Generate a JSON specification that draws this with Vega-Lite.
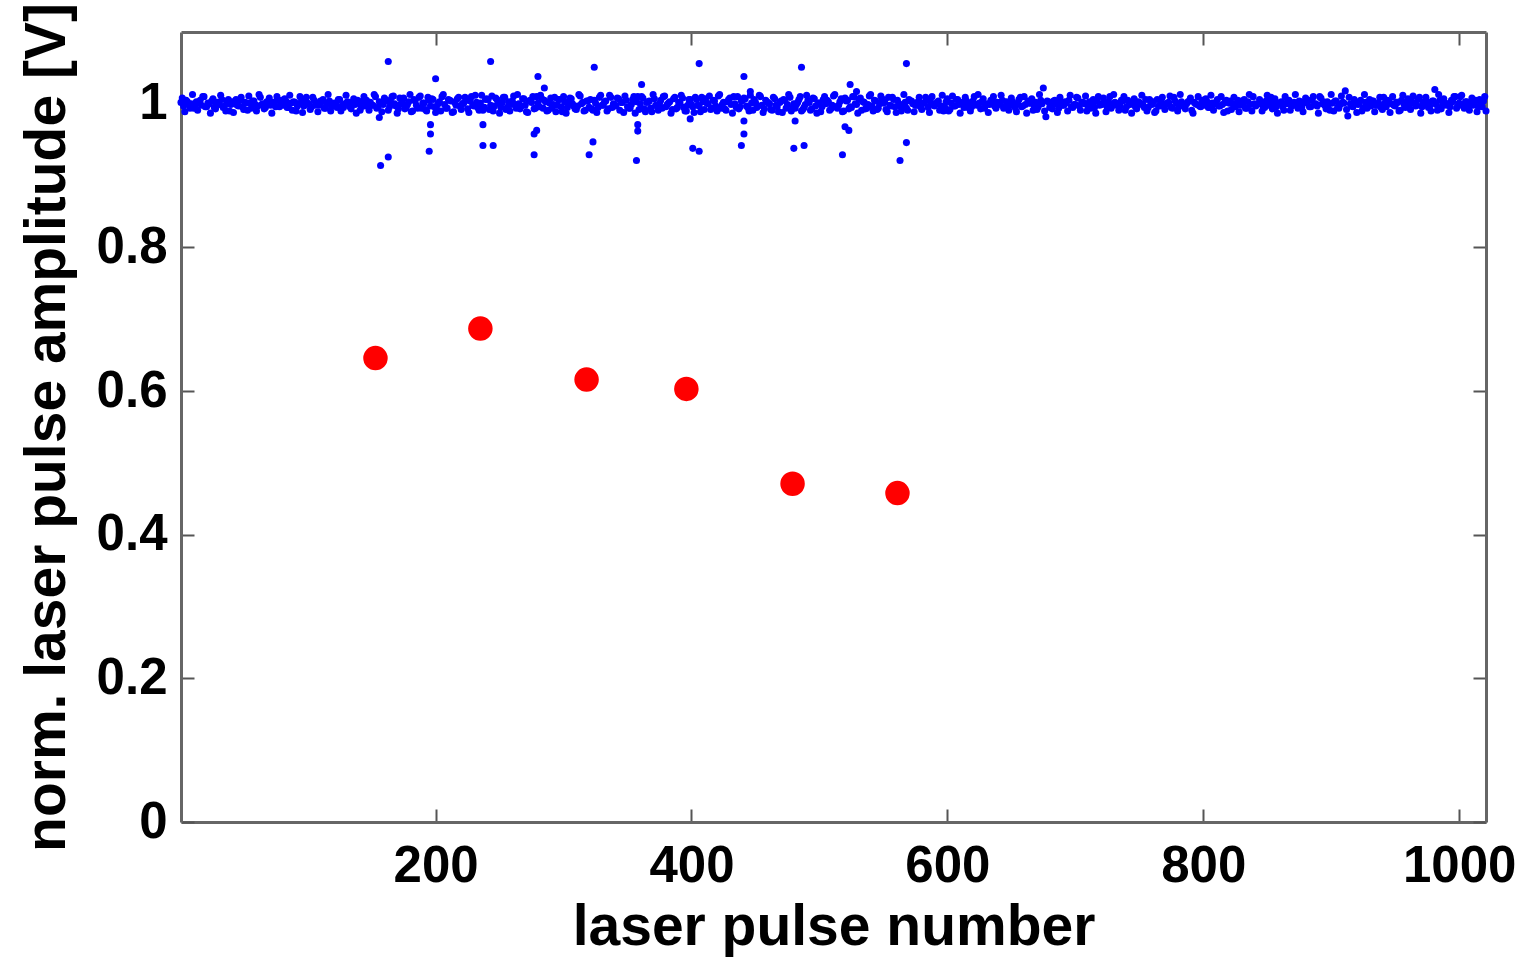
{
  "$schema": "https://vega.github.io/schema/vega-lite/v6.json",
  "width": 1305,
  "height": 790,
  "autosize": "none",
  "padding": {"left": 181, "top": 32, "right": 36, "bottom": 136},
  "background": "white",
  "config": {
    "view": {"stroke": null},
    "axis": {
      "grid": false,
      "domainColor": "#666666",
      "domainWidth": 3,
      "tickColor": "#555555",
      "tickWidth": 2,
      "tickSize": -13,
      "labelFont": "Liberation Sans",
      "labelFontWeight": "bold",
      "labelFontSize": 51,
      "labelColor": "#000000",
      "labelFlush": false,
      "labelOverlap": false,
      "titleFont": "Liberation Sans",
      "titleFontWeight": "bold",
      "titleFontSize": 57,
      "titleColor": "#000000"
    }
  },
  "datasets": {
    "blue": [
      {"n":1,"v":1.002},{"n":3,"v":0.997},{"n":5,"v":1.005},{"n":7,"v":0.999},{"n":9,"v":1.000},{"n":11,"v":0.994},{"n":13,"v":1.003},{"n":15,"v":1.001},{"n":17,"v":0.998},{"n":19,"v":1.010},{"n":21,"v":0.996},{"n":23,"v":1.000},{"n":25,"v":1.004},{"n":27,"v":0.995},{"n":29,"v":1.002},{"n":31,"v":0.999},{"n":33,"v":1.006},{"n":35,"v":0.997},{"n":37,"v":1.001},{"n":39,"v":0.990},
      {"n":41,"v":1.003},{"n":43,"v":1.000},{"n":45,"v":0.998},{"n":47,"v":1.005},{"n":49,"v":0.996},{"n":51,"v":1.002},{"n":53,"v":0.991},{"n":55,"v":1.001},{"n":57,"v":1.004},{"n":59,"v":0.999},{"n":61,"v":0.997},{"n":63,"v":1.009},{"n":65,"v":1.000},{"n":67,"v":0.995},{"n":69,"v":1.003},{"n":71,"v":0.998},{"n":73,"v":1.002},{"n":75,"v":0.996},{"n":77,"v":1.005},{"n":79,"v":0.999},
      {"n":81,"v":0.998},{"n":83,"v":1.004},{"n":85,"v":0.995},{"n":87,"v":1.001},{"n":89,"v":1.003},{"n":91,"v":0.990},{"n":93,"v":1.000},{"n":95,"v":1.002},{"n":97,"v":0.997},{"n":99,"v":1.009},{"n":101,"v":0.999},{"n":103,"v":0.996},{"n":105,"v":1.005},{"n":107,"v":1.001},{"n":109,"v":0.998},{"n":111,"v":1.003},{"n":113,"v":0.994},{"n":115,"v":1.000},{"n":117,"v":1.004},{"n":119,"v":0.997},
      {"n":121,"v":1.001},{"n":123,"v":0.995},{"n":125,"v":1.006},{"n":127,"v":0.998},{"n":129,"v":1.000},{"n":131,"v":1.003},{"n":133,"v":0.996},{"n":135,"v":1.002},{"n":137,"v":0.999},{"n":139,"v":1.005},{"n":141,"v":0.991},{"n":143,"v":1.004},{"n":145,"v":0.997},{"n":147,"v":1.000},{"n":149,"v":1.002},{"n":151,"v":0.998},{"n":153,"v":1.010},{"n":155,"v":0.995},{"n":157,"v":1.001},{"n":159,"v":0.999},
      {"n":161,"v":1.004},{"n":163,"v":0.991},{"n":165,"v":1.002},{"n":167,"v":1.011},{"n":169,"v":0.997},{"n":171,"v":0.993},{"n":173,"v":1.000},{"n":175,"v":1.008},{"n":177,"v":0.995},{"n":179,"v":1.003},{"n":181,"v":0.989},{"n":183,"v":1.006},{"n":185,"v":0.998},{"n":187,"v":1.009},{"n":189,"v":0.994},{"n":191,"v":1.001},{"n":193,"v":0.990},{"n":195,"v":1.005},{"n":197,"v":1.007},{"n":199,"v":0.996},
      {"n":201,"v":0.992},{"n":203,"v":1.003},{"n":205,"v":1.010},{"n":207,"v":0.999},{"n":209,"v":0.994},{"n":211,"v":1.005},{"n":213,"v":0.988},{"n":215,"v":1.002},{"n":217,"v":1.007},{"n":219,"v":0.997},{"n":221,"v":1.000},{"n":223,"v":1.009},{"n":225,"v":0.993},{"n":227,"v":1.004},{"n":229,"v":0.998},{"n":231,"v":1.012},{"n":233,"v":0.995},{"n":235,"v":1.001},{"n":237,"v":0.991},{"n":239,"v":1.006},
      {"n":241,"v":1.006},{"n":243,"v":0.998},{"n":245,"v":0.990},{"n":247,"v":1.008},{"n":249,"v":1.001},{"n":251,"v":0.995},{"n":253,"v":1.009},{"n":255,"v":0.992},{"n":257,"v":1.003},{"n":259,"v":0.999},{"n":261,"v":1.011},{"n":263,"v":0.994},{"n":265,"v":1.000},{"n":267,"v":0.997},{"n":269,"v":1.007},{"n":271,"v":0.989},{"n":273,"v":1.004},{"n":275,"v":1.002},{"n":277,"v":0.993},{"n":279,"v":1.010},
      {"n":281,"v":0.996},{"n":283,"v":1.007},{"n":285,"v":1.005},{"n":287,"v":0.990},{"n":289,"v":1.001},{"n":291,"v":0.994},{"n":293,"v":1.009},{"n":295,"v":0.998},{"n":297,"v":1.006},{"n":299,"v":0.989},{"n":301,"v":1.003},{"n":303,"v":0.995},{"n":305,"v":1.008},{"n":307,"v":1.000},{"n":309,"v":0.993},{"n":311,"v":0.997},{"n":313,"v":1.011},{"n":315,"v":1.002},{"n":317,"v":0.991},{"n":319,"v":1.004},
      {"n":321,"v":1.006},{"n":323,"v":0.991},{"n":325,"v":1.001},{"n":327,"v":0.995},{"n":329,"v":1.012},{"n":331,"v":0.998},{"n":333,"v":1.004},{"n":335,"v":0.993},{"n":337,"v":1.009},{"n":339,"v":1.000},{"n":341,"v":0.997},{"n":343,"v":1.007},{"n":345,"v":1.002},{"n":347,"v":0.988},{"n":349,"v":1.005},{"n":351,"v":0.994},{"n":353,"v":0.999},{"n":355,"v":1.010},{"n":357,"v":1.003},{"n":359,"v":0.992},
      {"n":361,"v":1.010},{"n":363,"v":0.993},{"n":365,"v":1.002},{"n":367,"v":1.004},{"n":369,"v":0.989},{"n":371,"v":1.007},{"n":373,"v":0.997},{"n":375,"v":1.000},{"n":377,"v":0.994},{"n":379,"v":1.011},{"n":381,"v":0.999},{"n":383,"v":1.003},{"n":385,"v":0.992},{"n":387,"v":1.009},{"n":389,"v":0.995},{"n":391,"v":1.001},{"n":393,"v":1.008},{"n":395,"v":0.990},{"n":397,"v":0.998},{"n":399,"v":1.006},
      {"n":401,"v":0.996},{"n":403,"v":1.009},{"n":405,"v":0.998},{"n":407,"v":0.989},{"n":409,"v":1.003},{"n":411,"v":1.007},{"n":413,"v":1.000},{"n":415,"v":0.992},{"n":417,"v":1.005},{"n":419,"v":0.997},{"n":421,"v":1.011},{"n":423,"v":0.994},{"n":425,"v":1.002},{"n":427,"v":0.991},{"n":429,"v":1.006},{"n":431,"v":0.999},{"n":433,"v":1.010},{"n":435,"v":0.995},{"n":437,"v":0.993},{"n":439,"v":1.004},
      {"n":441,"v":1.008},{"n":443,"v":0.997},{"n":445,"v":0.990},{"n":447,"v":1.001},{"n":449,"v":1.006},{"n":451,"v":0.995},{"n":453,"v":1.012},{"n":455,"v":0.998},{"n":457,"v":0.993},{"n":459,"v":1.003},{"n":461,"v":1.000},{"n":463,"v":0.991},{"n":465,"v":1.007},{"n":467,"v":0.996},{"n":469,"v":1.002},{"n":471,"v":0.988},{"n":473,"v":1.005},{"n":475,"v":0.999},{"n":477,"v":1.009},{"n":479,"v":0.994},
      {"n":481,"v":0.994},{"n":483,"v":1.002},{"n":485,"v":1.010},{"n":487,"v":0.992},{"n":489,"v":0.999},{"n":491,"v":1.005},{"n":493,"v":0.991},{"n":495,"v":1.008},{"n":497,"v":0.997},{"n":499,"v":1.001},{"n":501,"v":0.989},{"n":503,"v":1.006},{"n":505,"v":1.000},{"n":507,"v":1.003},{"n":509,"v":0.993},{"n":511,"v":1.011},{"n":513,"v":0.996},{"n":515,"v":0.998},{"n":517,"v":1.007},{"n":519,"v":0.990},
      {"n":521,"v":1.004},{"n":523,"v":0.993},{"n":525,"v":0.995},{"n":527,"v":1.010},{"n":529,"v":0.999},{"n":531,"v":1.006},{"n":533,"v":0.991},{"n":535,"v":1.002},{"n":537,"v":0.994},{"n":539,"v":1.011},{"n":541,"v":0.997},{"n":543,"v":1.005},{"n":545,"v":0.992},{"n":547,"v":1.000},{"n":549,"v":1.007},{"n":551,"v":1.003},{"n":553,"v":0.989},{"n":555,"v":0.998},{"n":557,"v":1.009},{"n":559,"v":0.996},
      {"n":561,"v":1.005},{"n":563,"v":0.997},{"n":565,"v":0.999},{"n":567,"v":1.002},{"n":569,"v":0.991},{"n":571,"v":1.004},{"n":573,"v":1.000},{"n":575,"v":0.998},{"n":577,"v":1.003},{"n":579,"v":0.996},{"n":581,"v":1.001},{"n":583,"v":1.009},{"n":585,"v":0.995},{"n":587,"v":1.002},{"n":589,"v":0.999},{"n":591,"v":1.000},{"n":593,"v":1.004},{"n":595,"v":0.997},{"n":597,"v":0.990},{"n":599,"v":1.003},
      {"n":601,"v":0.990},{"n":603,"v":1.001},{"n":605,"v":0.997},{"n":607,"v":1.006},{"n":609,"v":0.999},{"n":611,"v":1.002},{"n":613,"v":0.995},{"n":615,"v":1.004},{"n":617,"v":1.000},{"n":619,"v":0.996},{"n":621,"v":1.010},{"n":623,"v":0.998},{"n":625,"v":1.001},{"n":627,"v":1.003},{"n":629,"v":0.994},{"n":631,"v":1.000},{"n":633,"v":0.999},{"n":635,"v":1.005},{"n":637,"v":0.997},{"n":639,"v":1.002},
      {"n":641,"v":0.999},{"n":643,"v":1.005},{"n":645,"v":0.996},{"n":647,"v":1.002},{"n":649,"v":0.998},{"n":651,"v":1.003},{"n":653,"v":0.995},{"n":655,"v":1.000},{"n":657,"v":1.009},{"n":659,"v":0.997},{"n":661,"v":0.999},{"n":663,"v":1.004},{"n":665,"v":1.001},{"n":667,"v":0.991},{"n":669,"v":1.002},{"n":671,"v":0.996},{"n":673,"v":1.005},{"n":675,"v":1.022},{"n":677,"v":0.982},{"n":679,"v":1.003},
      {"n":681,"v":0.997},{"n":683,"v":1.004},{"n":685,"v":1.000},{"n":687,"v":0.994},{"n":689,"v":1.003},{"n":691,"v":0.998},{"n":693,"v":1.001},{"n":695,"v":1.005},{"n":697,"v":0.996},{"n":699,"v":0.999},{"n":701,"v":1.009},{"n":703,"v":0.997},{"n":705,"v":1.002},{"n":707,"v":1.000},{"n":709,"v":0.990},{"n":711,"v":1.003},{"n":713,"v":1.001},{"n":715,"v":0.995},{"n":717,"v":1.004},{"n":719,"v":0.998},
      {"n":721,"v":0.999},{"n":723,"v":1.001},{"n":725,"v":0.995},{"n":727,"v":1.010},{"n":729,"v":0.998},{"n":731,"v":1.002},{"n":733,"v":1.000},{"n":735,"v":0.997},{"n":737,"v":1.004},{"n":739,"v":0.991},{"n":741,"v":1.005},{"n":743,"v":0.999},{"n":745,"v":1.002},{"n":747,"v":0.996},{"n":749,"v":1.003},{"n":751,"v":1.000},{"n":753,"v":0.998},{"n":755,"v":1.006},{"n":757,"v":0.995},{"n":759,"v":1.001},
      {"n":761,"v":1.003},{"n":763,"v":0.990},{"n":765,"v":0.997},{"n":767,"v":1.004},{"n":769,"v":1.000},{"n":771,"v":0.999},{"n":773,"v":1.002},{"n":775,"v":0.995},{"n":777,"v":1.009},{"n":779,"v":1.001},{"n":781,"v":0.996},{"n":783,"v":1.003},{"n":785,"v":0.998},{"n":787,"v":1.000},{"n":789,"v":1.004},{"n":791,"v":0.991},{"n":793,"v":1.002},{"n":795,"v":0.999},{"n":797,"v":0.997},{"n":799,"v":1.005},
      {"n":801,"v":0.998},{"n":803,"v":1.003},{"n":805,"v":0.995},{"n":807,"v":1.001},{"n":809,"v":1.000},{"n":811,"v":1.006},{"n":813,"v":0.997},{"n":815,"v":0.999},{"n":817,"v":1.002},{"n":819,"v":0.990},{"n":821,"v":1.004},{"n":823,"v":1.000},{"n":825,"v":0.996},{"n":827,"v":1.005},{"n":829,"v":0.998},{"n":831,"v":1.001},{"n":833,"v":0.994},{"n":835,"v":1.003},{"n":837,"v":0.999},{"n":839,"v":1.010},
      {"n":841,"v":0.997},{"n":843,"v":1.000},{"n":845,"v":1.002},{"n":847,"v":0.995},{"n":849,"v":1.004},{"n":851,"v":0.998},{"n":853,"v":1.009},{"n":855,"v":0.999},{"n":857,"v":0.996},{"n":859,"v":1.001},{"n":861,"v":1.003},{"n":863,"v":0.991},{"n":865,"v":1.000},{"n":867,"v":1.005},{"n":869,"v":0.997},{"n":871,"v":1.002},{"n":873,"v":0.998},{"n":875,"v":1.004},{"n":877,"v":0.995},{"n":879,"v":1.001},
      {"n":881,"v":1.002},{"n":883,"v":0.996},{"n":885,"v":1.005},{"n":887,"v":0.999},{"n":889,"v":0.997},{"n":891,"v":1.010},{"n":893,"v":1.000},{"n":895,"v":0.998},{"n":897,"v":1.003},{"n":899,"v":0.991},{"n":901,"v":1.001},{"n":903,"v":1.004},{"n":905,"v":0.995},{"n":907,"v":0.999},{"n":909,"v":1.002},{"n":911,"v":1.018},{"n":913,"v":0.983},{"n":915,"v":1.000},{"n":917,"v":0.996},{"n":919,"v":1.003},
      {"n":921,"v":0.999},{"n":923,"v":1.005},{"n":925,"v":0.994},{"n":927,"v":1.002},{"n":929,"v":1.000},{"n":931,"v":0.997},{"n":933,"v":1.004},{"n":935,"v":0.998},{"n":937,"v":1.001},{"n":939,"v":0.995},{"n":941,"v":1.009},{"n":943,"v":0.996},{"n":945,"v":1.003},{"n":947,"v":1.000},{"n":949,"v":0.998},{"n":951,"v":1.002},{"n":953,"v":0.990},{"n":955,"v":1.005},{"n":957,"v":0.999},{"n":959,"v":1.001},
      {"n":961,"v":0.995},{"n":963,"v":1.003},{"n":965,"v":1.001},{"n":967,"v":0.998},{"n":969,"v":1.009},{"n":971,"v":0.996},{"n":973,"v":1.000},{"n":975,"v":1.002},{"n":977,"v":0.997},{"n":979,"v":1.004},{"n":981,"v":1.020},{"n":983,"v":0.991},{"n":985,"v":1.005},{"n":987,"v":0.998},{"n":989,"v":1.001},{"n":991,"v":1.000},{"n":993,"v":0.996},{"n":995,"v":1.003},{"n":997,"v":1.010},{"n":999,"v":0.997},
      {"n":1001,"v":1.010},{"n":1003,"v":0.999},{"n":1005,"v":1.003},{"n":1007,"v":0.994},{"n":1009,"v":1.001},{"n":1011,"v":0.998},{"n":1013,"v":1.005},{"n":1015,"v":0.996},{"n":1017,"v":1.000},{"n":1019,"v":1.004},{"n":1021,"v":0.990},
      {"n":2,"v":1.008},{"n":4,"v":0.989},{"n":6,"v":1.003},{"n":8,"v":0.994},{"n":10,"v":1.013},{"n":12,"v":0.998},{"n":14,"v":0.991},{"n":16,"v":1.005},{"n":18,"v":1.010},{"n":20,"v":0.996},{"n":22,"v":1.001},{"n":24,"v":0.987},{"n":26,"v":1.007},{"n":28,"v":0.993},{"n":30,"v":1.002},{"n":32,"v":1.012},{"n":34,"v":0.995},{"n":36,"v":0.990},{"n":38,"v":1.006},{"n":40,"v":0.999},
      {"n":42,"v":0.988},{"n":44,"v":1.006},{"n":46,"v":0.997},{"n":48,"v":1.009},{"n":50,"v":0.992},{"n":52,"v":1.001},{"n":54,"v":1.011},{"n":56,"v":0.994},{"n":58,"v":1.004},{"n":60,"v":0.990},{"n":62,"v":1.013},{"n":64,"v":0.999},{"n":66,"v":0.993},{"n":68,"v":1.003},{"n":70,"v":1.008},{"n":72,"v":0.987},{"n":74,"v":1.000},{"n":76,"v":1.010},{"n":78,"v":0.996},{"n":80,"v":1.005},
      {"n":82,"v":1.007},{"n":84,"v":0.995},{"n":86,"v":1.012},{"n":88,"v":0.991},{"n":90,"v":1.002},{"n":92,"v":0.997},{"n":94,"v":1.010},{"n":96,"v":0.988},{"n":98,"v":1.005},{"n":100,"v":1.001},{"n":102,"v":0.992},{"n":104,"v":1.009},{"n":106,"v":0.998},{"n":108,"v":0.989},{"n":110,"v":1.004},{"n":112,"v":1.006},{"n":114,"v":0.994},{"n":116,"v":1.013},{"n":118,"v":0.990},{"n":120,"v":1.000},
      {"n":122,"v":0.999},{"n":124,"v":1.006},{"n":126,"v":0.990},{"n":128,"v":0.995},{"n":130,"v":1.012},{"n":132,"v":1.002},{"n":134,"v":0.993},{"n":136,"v":1.007},{"n":138,"v":0.987},{"n":140,"v":1.001},{"n":142,"v":0.996},{"n":144,"v":1.010},{"n":146,"v":1.005},{"n":148,"v":0.991},{"n":150,"v":0.998},{"n":152,"v":1.013},{"n":154,"v":0.994},{"n":156,"v":1.003},{"n":158,"v":0.989},{"n":160,"v":1.008},
      {"n":162,"v":1.005},{"n":164,"v":0.996},{"n":166,"v":1.010},{"n":168,"v":1.000},{"n":170,"v":0.987},{"n":172,"v":1.008},{"n":174,"v":1.003},{"n":176,"v":0.993},{"n":178,"v":0.999},{"n":180,"v":1.013},{"n":182,"v":0.990},{"n":184,"v":1.004},{"n":186,"v":0.994},{"n":188,"v":1.011},{"n":190,"v":1.001},{"n":192,"v":0.992},{"n":194,"v":1.009},{"n":196,"v":0.997},{"n":198,"v":1.006},{"n":200,"v":0.988},
      {"n":202,"v":1.000},{"n":204,"v":0.990},{"n":206,"v":1.013},{"n":208,"v":0.994},{"n":210,"v":1.006},{"n":212,"v":1.004},{"n":214,"v":0.989},{"n":216,"v":0.998},{"n":218,"v":1.009},{"n":220,"v":0.992},{"n":222,"v":1.001},{"n":224,"v":1.005},{"n":226,"v":0.988},{"n":228,"v":1.010},{"n":230,"v":0.997},{"n":232,"v":1.002},{"n":234,"v":0.991},{"n":236,"v":1.012},{"n":238,"v":0.995},{"n":240,"v":1.007},
      {"n":242,"v":0.992},{"n":244,"v":1.011},{"n":246,"v":0.997},{"n":248,"v":1.006},{"n":250,"v":0.987},{"n":252,"v":1.002},{"n":254,"v":1.009},{"n":256,"v":0.995},{"n":258,"v":0.990},{"n":260,"v":1.004},{"n":262,"v":0.999},{"n":264,"v":1.013},{"n":266,"v":0.993},{"n":268,"v":1.007},{"n":270,"v":0.998},{"n":272,"v":0.988},{"n":274,"v":1.005},{"n":276,"v":1.010},{"n":278,"v":0.994},{"n":280,"v":1.001},
      {"n":282,"v":1.012},{"n":284,"v":0.994},{"n":286,"v":1.003},{"n":288,"v":0.991},{"n":290,"v":1.008},{"n":292,"v":0.999},{"n":294,"v":0.989},{"n":296,"v":1.006},{"n":298,"v":0.996},{"n":300,"v":1.010},{"n":302,"v":0.987},{"n":304,"v":1.001},{"n":306,"v":1.007},{"n":308,"v":0.997},{"n":310,"v":0.992},{"n":312,"v":1.013},{"n":314,"v":1.000},{"n":316,"v":0.990},{"n":318,"v":1.004},{"n":320,"v":0.995},
      {"n":322,"v":0.993},{"n":324,"v":1.005},{"n":326,"v":0.988},{"n":328,"v":1.009},{"n":330,"v":0.998},{"n":332,"v":1.003},{"n":334,"v":0.990},{"n":336,"v":1.012},{"n":338,"v":0.995},{"n":340,"v":0.999},{"n":342,"v":1.008},{"n":344,"v":0.991},{"n":346,"v":1.002},{"n":348,"v":1.011},{"n":350,"v":0.996},{"n":352,"v":0.994},{"n":354,"v":1.006},{"n":356,"v":0.987},{"n":358,"v":1.010},{"n":360,"v":1.000},
      {"n":362,"v":1.008},{"n":364,"v":0.989},{"n":366,"v":1.003},{"n":368,"v":0.994},{"n":370,"v":1.013},{"n":372,"v":0.998},{"n":374,"v":0.991},{"n":376,"v":1.005},{"n":378,"v":1.010},{"n":380,"v":0.996},{"n":382,"v":1.001},{"n":384,"v":0.987},{"n":386,"v":1.007},{"n":388,"v":0.993},{"n":390,"v":1.002},{"n":392,"v":1.012},{"n":394,"v":0.995},{"n":396,"v":0.990},{"n":398,"v":1.006},{"n":400,"v":0.999},
      {"n":402,"v":0.988},{"n":404,"v":1.006},{"n":406,"v":0.997},{"n":408,"v":1.009},{"n":410,"v":0.992},{"n":412,"v":1.001},{"n":414,"v":1.011},{"n":416,"v":0.994},{"n":418,"v":1.004},{"n":420,"v":0.990},{"n":422,"v":1.013},{"n":424,"v":0.999},{"n":426,"v":0.993},{"n":428,"v":1.003},{"n":430,"v":1.008},{"n":432,"v":0.987},{"n":434,"v":1.000},{"n":436,"v":1.010},{"n":438,"v":0.996},{"n":440,"v":1.005},
      {"n":442,"v":1.007},{"n":444,"v":0.995},{"n":446,"v":1.012},{"n":448,"v":0.991},{"n":450,"v":1.002},{"n":452,"v":0.997},{"n":454,"v":1.010},{"n":456,"v":0.988},{"n":458,"v":1.005},{"n":460,"v":1.001},{"n":462,"v":0.992},{"n":464,"v":1.009},{"n":466,"v":0.998},{"n":468,"v":0.989},{"n":470,"v":1.004},{"n":472,"v":1.006},{"n":474,"v":0.994},{"n":476,"v":1.013},{"n":478,"v":0.990},{"n":480,"v":1.000},
      {"n":482,"v":0.999},{"n":484,"v":1.006},{"n":486,"v":0.990},{"n":488,"v":0.995},{"n":490,"v":1.012},{"n":492,"v":1.002},{"n":494,"v":0.993},{"n":496,"v":1.007},{"n":498,"v":0.987},{"n":500,"v":1.001},{"n":502,"v":0.996},{"n":504,"v":1.010},{"n":506,"v":1.005},{"n":508,"v":0.991},{"n":510,"v":0.998},{"n":512,"v":1.013},{"n":514,"v":0.994},{"n":516,"v":1.003},{"n":518,"v":0.989},{"n":520,"v":1.008},
      {"n":522,"v":1.005},{"n":524,"v":0.996},{"n":526,"v":1.010},{"n":528,"v":1.000},{"n":530,"v":0.987},{"n":532,"v":1.008},{"n":534,"v":1.003},{"n":536,"v":0.993},{"n":538,"v":0.999},{"n":540,"v":1.013},{"n":542,"v":0.990},{"n":544,"v":1.004},{"n":546,"v":0.994},{"n":548,"v":1.011},{"n":550,"v":1.001},{"n":552,"v":0.992},{"n":554,"v":1.009},{"n":556,"v":0.997},{"n":558,"v":1.006},{"n":560,"v":0.988},
      {"n":562,"v":1.000},{"n":564,"v":0.990},{"n":566,"v":1.013},{"n":568,"v":0.994},{"n":570,"v":1.006},{"n":572,"v":1.004},{"n":574,"v":0.989},{"n":576,"v":0.998},{"n":578,"v":1.009},{"n":580,"v":0.992},{"n":582,"v":1.001},{"n":584,"v":1.005},{"n":586,"v":0.988},{"n":588,"v":1.010},{"n":590,"v":0.997},{"n":592,"v":1.002},{"n":594,"v":0.991},{"n":596,"v":1.012},{"n":598,"v":0.995},{"n":600,"v":1.007},
      {"n":602,"v":0.992},{"n":604,"v":1.011},{"n":606,"v":0.997},{"n":608,"v":1.006},{"n":610,"v":0.987},{"n":612,"v":1.002},{"n":614,"v":1.009},{"n":616,"v":0.995},{"n":618,"v":0.990},{"n":620,"v":1.004},{"n":622,"v":0.999},{"n":624,"v":1.013},{"n":626,"v":0.993},{"n":628,"v":1.007},{"n":630,"v":0.998},{"n":632,"v":0.988},{"n":634,"v":1.005},{"n":636,"v":1.010},{"n":638,"v":0.994},{"n":640,"v":1.001},
      {"n":642,"v":1.012},{"n":644,"v":0.994},{"n":646,"v":1.003},{"n":648,"v":0.991},{"n":650,"v":1.008},{"n":652,"v":0.999},{"n":654,"v":0.989},{"n":656,"v":1.006},{"n":658,"v":0.996},{"n":660,"v":1.010},{"n":662,"v":0.987},{"n":664,"v":1.001},{"n":666,"v":1.007},{"n":668,"v":0.997},{"n":670,"v":0.992},{"n":672,"v":1.013},{"n":674,"v":1.000},{"n":676,"v":0.990},{"n":678,"v":1.004},{"n":680,"v":0.995},
      {"n":682,"v":0.993},{"n":684,"v":1.005},{"n":686,"v":0.988},{"n":688,"v":1.009},{"n":690,"v":0.998},{"n":692,"v":1.003},{"n":694,"v":0.990},{"n":696,"v":1.012},{"n":698,"v":0.995},{"n":700,"v":0.999},{"n":702,"v":1.008},{"n":704,"v":0.991},{"n":706,"v":1.002},{"n":708,"v":1.011},{"n":710,"v":0.996},{"n":712,"v":0.994},{"n":714,"v":1.006},{"n":716,"v":0.987},{"n":718,"v":1.010},{"n":720,"v":1.000},
      {"n":722,"v":1.008},{"n":724,"v":0.989},{"n":726,"v":1.003},{"n":728,"v":0.994},{"n":730,"v":1.013},{"n":732,"v":0.998},{"n":734,"v":0.991},{"n":736,"v":1.005},{"n":738,"v":1.010},{"n":740,"v":0.996},{"n":742,"v":1.001},{"n":744,"v":0.987},{"n":746,"v":1.007},{"n":748,"v":0.993},{"n":750,"v":1.002},{"n":752,"v":1.012},{"n":754,"v":0.995},{"n":756,"v":0.990},{"n":758,"v":1.006},{"n":760,"v":0.999},
      {"n":762,"v":0.988},{"n":764,"v":1.006},{"n":766,"v":0.997},{"n":768,"v":1.009},{"n":770,"v":0.992},{"n":772,"v":1.001},{"n":774,"v":1.011},{"n":776,"v":0.994},{"n":778,"v":1.004},{"n":780,"v":0.990},{"n":782,"v":1.013},{"n":784,"v":0.999},{"n":786,"v":0.993},{"n":788,"v":1.003},{"n":790,"v":1.008},{"n":792,"v":0.987},{"n":794,"v":1.000},{"n":796,"v":1.010},{"n":798,"v":0.996},{"n":800,"v":1.005},
      {"n":802,"v":1.007},{"n":804,"v":0.995},{"n":806,"v":1.012},{"n":808,"v":0.991},{"n":810,"v":1.002},{"n":812,"v":0.997},{"n":814,"v":1.010},{"n":816,"v":0.988},{"n":818,"v":1.005},{"n":820,"v":1.001},{"n":822,"v":0.992},{"n":824,"v":1.009},{"n":826,"v":0.998},{"n":828,"v":0.989},{"n":830,"v":1.004},{"n":832,"v":1.006},{"n":834,"v":0.994},{"n":836,"v":1.013},{"n":838,"v":0.990},{"n":840,"v":1.000},
      {"n":842,"v":0.999},{"n":844,"v":1.006},{"n":846,"v":0.990},{"n":848,"v":0.995},{"n":850,"v":1.012},{"n":852,"v":1.002},{"n":854,"v":0.993},{"n":856,"v":1.007},{"n":858,"v":0.987},{"n":860,"v":1.001},{"n":862,"v":0.996},{"n":864,"v":1.010},{"n":866,"v":1.005},{"n":868,"v":0.991},{"n":870,"v":0.998},{"n":872,"v":1.013},{"n":874,"v":0.994},{"n":876,"v":1.003},{"n":878,"v":0.989},{"n":880,"v":1.008},
      {"n":882,"v":1.005},{"n":884,"v":0.996},{"n":886,"v":1.010},{"n":888,"v":1.000},{"n":890,"v":0.987},{"n":892,"v":1.008},{"n":894,"v":1.003},{"n":896,"v":0.993},{"n":898,"v":0.999},{"n":900,"v":1.013},{"n":902,"v":0.990},{"n":904,"v":1.004},{"n":906,"v":0.994},{"n":908,"v":1.011},{"n":910,"v":1.001},{"n":912,"v":0.992},{"n":914,"v":1.009},{"n":916,"v":0.997},{"n":918,"v":1.006},{"n":920,"v":0.988},
      {"n":922,"v":1.000},{"n":924,"v":0.990},{"n":926,"v":1.013},{"n":928,"v":0.994},{"n":930,"v":1.006},{"n":932,"v":1.004},{"n":934,"v":0.989},{"n":936,"v":0.998},{"n":938,"v":1.009},{"n":940,"v":0.992},{"n":942,"v":1.001},{"n":944,"v":1.005},{"n":946,"v":0.988},{"n":948,"v":1.010},{"n":950,"v":0.997},{"n":952,"v":1.002},{"n":954,"v":0.991},{"n":956,"v":1.012},{"n":958,"v":0.995},{"n":960,"v":1.007},
      {"n":962,"v":0.992},{"n":964,"v":1.011},{"n":966,"v":0.997},{"n":968,"v":1.006},{"n":970,"v":0.987},{"n":972,"v":1.002},{"n":974,"v":1.009},{"n":976,"v":0.995},{"n":978,"v":0.990},{"n":980,"v":1.004},{"n":982,"v":0.999},{"n":984,"v":1.013},{"n":986,"v":0.993},{"n":988,"v":1.007},{"n":990,"v":0.998},{"n":992,"v":0.988},{"n":994,"v":1.005},{"n":996,"v":1.010},{"n":998,"v":0.994},{"n":1000,"v":1.001},
      {"n":1002,"v":1.012},{"n":1004,"v":0.994},{"n":1006,"v":1.003},{"n":1008,"v":0.991},{"n":1010,"v":1.008},{"n":1012,"v":0.999},{"n":1014,"v":0.989},{"n":1016,"v":1.006},{"n":1018,"v":0.996},{"n":1020,"v":1.010},
      {"n":163,"v":1.059},{"n":156,"v":0.981},{"n":163,"v":0.926},{"n":157,"v":0.914},{"n":195,"v":0.934},{"n":196,"v":0.971},{"n":196,"v":0.958},{"n":200,"v":1.035},
      {"n":243,"v":1.059},{"n":237,"v":0.971},{"n":237,"v":0.942},{"n":245,"v":0.942},{"n":280,"v":1.038},{"n":285,"v":1.022},{"n":279,"v":0.963},{"n":277,"v":0.958},{"n":277,"v":0.929},
      {"n":324,"v":1.051},{"n":323,"v":0.947},{"n":320,"v":0.929},{"n":361,"v":1.027},{"n":358,"v":0.971},{"n":358,"v":0.962},{"n":357,"v":0.921},
      {"n":406,"v":1.056},{"n":399,"v":0.979},{"n":401,"v":0.938},{"n":406,"v":0.934},{"n":441,"v":1.038},{"n":446,"v":1.017},{"n":441,"v":0.976},{"n":441,"v":0.958},{"n":439,"v":0.942},
      {"n":486,"v":1.051},{"n":481,"v":0.976},{"n":480,"v":0.938},{"n":488,"v":0.942},{"n":524,"v":1.027},{"n":529,"v":1.017},{"n":520,"v":0.968},{"n":523,"v":0.963},{"n":518,"v":0.929},
      {"n":568,"v":1.056},{"n":568,"v":0.946},{"n":563,"v":0.921}
    ],
    "red": [
      {"n":153,"v":0.646},{"n":235,"v":0.687},{"n":318,"v":0.616},{"n":396,"v":0.603},{"n":479,"v":0.471},{"n":561,"v":0.458}
    ]
  },
  "layer": [
    {
      "data": {"name": "blue"},
      "mark": {"type": "circle", "color": "#0000ff", "opacity": 1, "size": 50},
      "encoding": {
        "x": {
          "field": "n", "type": "quantitative",
          "scale": {"domain": [1, 1021], "nice": false, "zero": false},
          "axis": {"orient": "bottom", "values": [200, 400, 600, 800, 1000], "format": "d", "title": "laser pulse number", "labelPadding": 32, "titlePadding": 8}
        },
        "y": {
          "field": "v", "type": "quantitative",
          "scale": {"domain": [0, 1.1], "nice": false},
          "axis": {"orient": "left", "values": [0, 0.2, 0.4, 0.6, 0.8, 1], "format": "~g", "title": "norm. laser pulse amplitude [V]", "labelPadding": 27, "titlePadding": 20}
        }
      }
    },
    {
      "data": {"name": "red"},
      "mark": {"type": "circle", "color": "#ff0000", "opacity": 1, "size": 600},
      "encoding": {
        "x": {
          "field": "n", "type": "quantitative",
          "scale": {"domain": [1, 1021], "nice": false, "zero": false},
          "axis": {"orient": "top", "values": [200, 400, 600, 800, 1000], "labels": false, "title": null}
        },
        "y": {
          "field": "v", "type": "quantitative",
          "scale": {"domain": [0, 1.1], "nice": false},
          "axis": {"orient": "right", "values": [0, 0.2, 0.4, 0.6, 0.8, 1], "labels": false, "title": null}
        }
      }
    }
  ]
}
